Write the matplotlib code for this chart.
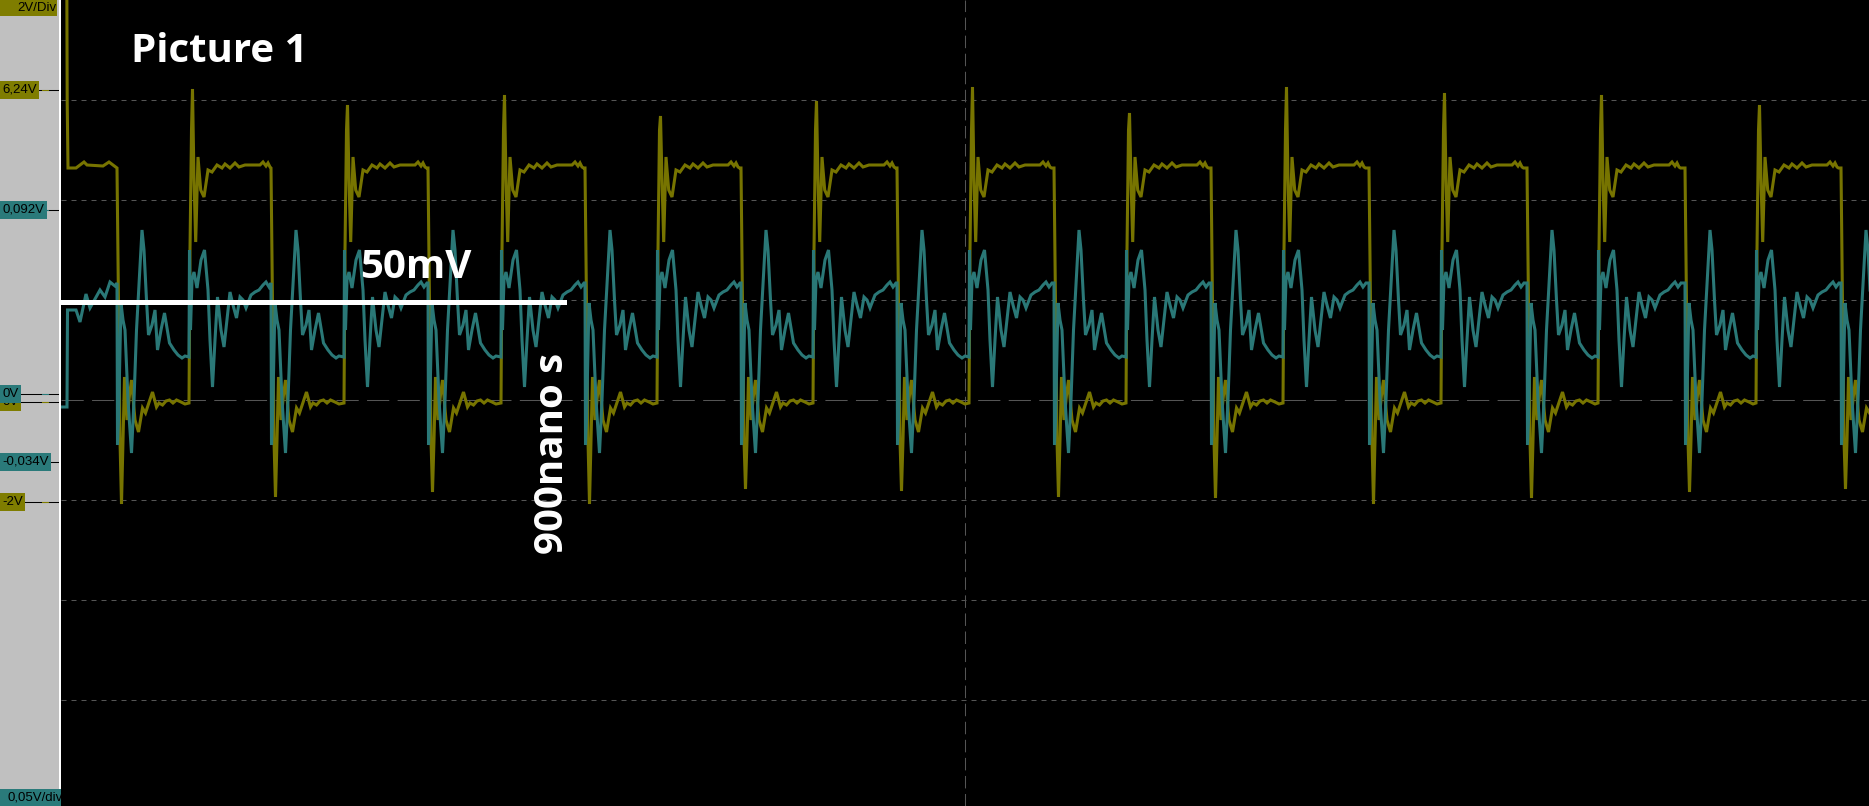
import matplotlib
matplotlib.use('Agg')
import matplotlib.pyplot as plt
from matplotlib.patches import Rectangle
from matplotlib.lines import Line2D

plt.rcParams['lines.scale_dashes'] = False

# scope settings
ch1_vdiv = 2.0       # yellow channel, V/div
ch2_vdiv = 0.05      # teal channel, V/div
ch1_offset = -0.02   # trace offset in divisions
ch2_offset = 0.06

ch1_ticks = [6.24, 0.0, -2.0]
ch1_tick_text = ['6,24V', '0V', '-2V']
ch2_ticks = [0.092, 0.0, -0.034]
ch2_tick_text = ['0,092V', '0V', '-0,034V']

# edge times (ns from the left edge of the screen)
fall_t = [56, 210, 367, 524, 680, 836, 993, 1150, 1308, 1466, 1624, 1780]
rise_t = [128, 283, 440, 596, 752, 908, 1065, 1222, 1380, 1537, 1695]
ch1_fall_min = [-2.04, -1.90, -1.80, -2.04, -1.74, -1.78, -1.90, -1.92, -2.04, -1.92, -1.80, -1.74]
ch1_rise_peak = [6.26, 5.94, 6.14, 5.72, 6.02, 6.30, 5.78, 6.30, 6.18, 6.14, 5.94]

# yellow: start of the record
ch1_start_t = [5.8, 6.2, 7, 15, 23, 26, 42, 48, 52]
ch1_start_v = [8.5, 6.0, 4.68, 4.68, 4.8, 4.74, 4.72, 4.8, 4.74]
# yellow: shape after a falling edge / after a rising edge
ch1_fall_dt = [0, 1.5, 3, 4.5, 6, 7.5, 10, 12.5, 14.5, 18, 21.5, 25.5, 28.5, 35.5, 39.5, 42, 45.5, 49, 52.5, 56, 59.5, 64, 68]
ch1_fall_v = [4.68, 2.04, -0.76, -2.06, -0.76, 0.5, -0.36, 0.14, 0.44, -0.36, -0.6, -0.12, -0.22, 0.2, -0.1, -0.02, -0.06, 0.02, 0.04, -0.02, 0.04, 0.0, -0.04]
ch1_rise_dt = [0, 1, 2.5, 3.5, 5, 6.7, 9, 11.7, 15, 19, 23, 28, 33, 36, 41, 46, 50, 56, 71, 74, 77, 79, 81, 82.5, 86]
ch1_rise_v = [-0.02, 3.04, 5.44, 6.28, 4.44, 3.2, 4.9, 4.24, 4.1, 4.64, 4.6, 4.74, 4.68, 4.76, 4.68, 4.78, 4.7, 4.74, 4.74, 4.8, 4.72, 4.78, 4.7, 4.68, 4.68]

# teal
ch2_start_t = [0, 6, 6.5, 15, 19, 25, 29, 39, 44, 49, 54]
ch2_start_v = [-0.0065, -0.0065, 0.042, 0.042, 0.036, 0.050, 0.043, 0.052, 0.0485, 0.056, 0.054]
ch2_fall_dt = [0, 0.5, 1.5, 4, 6, 8, 11, 14.5, 17, 19.5, 22.5, 25, 27, 29.5, 31.5, 35, 38, 40.5, 44, 47.5, 52.5, 57, 61, 65, 68]
ch2_fall_v = [0.0555, -0.0255, -0.013, 0.0455, 0.037, 0.032, -0.003, -0.0295, -0.003, 0.032, 0.0595, 0.082, 0.072, 0.047, 0.0295, 0.0345, 0.042, 0.022, 0.032, 0.0405, 0.0255, 0.022, 0.0195, 0.018, 0.019]
ch2_rise_dt = [0, 0.5, 1.5, 3, 5, 8, 12, 15.5, 19, 21, 23.5, 26, 28.5, 32, 35, 38, 41, 44, 47.5, 51, 54, 57, 62, 66, 70, 74, 77, 80, 83, 86]
ch2_rise_v = [0.0185, 0.072, 0.032, 0.057, 0.061, 0.053, 0.067, 0.072, 0.052, 0.027, 0.0035, 0.027, 0.0485, 0.032, 0.0235, 0.037, 0.051, 0.0445, 0.038, 0.0485, 0.047, 0.043, 0.0495, 0.051, 0.052, 0.0545, 0.056, 0.0535, 0.0555, 0.0555]

screen_ns = 1808
YEL = '#777400'
TEAL = '#2a7877'
BOX_Y = '#7f7d00'
BOX_T = '#2a7a7a'


def assemble(start_t, start_v, f_dt, f_v, r_dt, r_v, f_pk=None, r_pk=None, pk=3):
    t, v = list(start_t), list(start_v)
    for i, tf in enumerate(fall_t):
        t_next = rise_t[i] if i < len(rise_t) else screen_ns + 100
        fv = list(f_v)
        if f_pk: fv[pk] = f_pk[i]
        for dt, val in zip(f_dt, fv):
            if tf + dt < t_next:
                t.append(tf + dt); v.append(val)
        if i < len(rise_t):
            tr = rise_t[i]
            rv = list(r_v)
            if r_pk: rv[pk] = r_pk[i]
            for dt, val in zip(r_dt, rv):
                if tr + dt < fall_t[i + 1]:
                    t.append(tr + dt); v.append(val)
    return t, v


t1, v1 = assemble(ch1_start_t, ch1_start_v, ch1_fall_dt, ch1_fall_v, ch1_rise_dt, ch1_rise_v,
                  ch1_fall_min, ch1_rise_peak)
t2, v2 = assemble(ch2_start_t, ch2_start_v, ch2_fall_dt, ch2_fall_v, ch2_rise_dt, ch2_rise_v)

y1 = [v / ch1_vdiv + ch1_offset for v in v1]
y2 = [v / ch2_vdiv + ch2_offset for v in v2]

W, H = 1869, 806
fig = plt.figure(figsize=(W / 100, H / 100), dpi=100, facecolor='black')
ylo, yhi = -4.06, 4.0

# ---- scope screen
ax = fig.add_axes([61 / W, 0, (W - 61) / W, 1])
ax.set_facecolor('black')
ax.set_xlim(0, screen_ns)
ax.set_ylim(ylo, yhi)
ax.set_xticks([]); ax.set_yticks([])
for s in ax.spines.values():
    s.set_visible(False)

grid_c = '#555555'
for d in [3, 2, 1, -1, -2, -3]:
    ax.axhline(d, color=grid_c, lw=0.75, ls=(0, (3.6, 3.6)), zorder=1)
ax.axhline(0, color=grid_c, lw=0.75, ls=(0, (16, 6)), zorder=1)
ax.axvline(screen_ns / 2, color=grid_c, lw=0.75, ls=(0, (9, 4)), zorder=1)

ax.plot(t1, y1, color=YEL, lw=2.2, zorder=3, solid_joinstyle='miter')
ax.plot(t2, y2, color=TEAL, lw=2.2, zorder=4, solid_joinstyle='miter')

# ---- annotations laid over the screenshot
bold = dict(family='Open Sans', weight='bold', color='white', fontsize=29)
ax.text(70, 3.38, 'Picture 1', ha='left', va='baseline', zorder=10, **bold)
ax.text(299, 1.22, '50mV', ha='left', va='baseline', zorder=10, **bold)
ax.text(491, -0.53, '900nano s', rotation=90, ha='center', va='center', zorder=10, **bold)
ax.add_line(Line2D([-10, 503], [0.98, 0.98], color='white', lw=3.6, zorder=11, clip_on=False))

# ---- left gray panel with channel markers
axl = fig.add_axes([0, 0, 61 / W, 1])
axl.set_xlim(0, 61)
axl.set_ylim(ylo, yhi)
axl.axis('off')
axl.add_patch(Rectangle((0, ylo), 59, yhi - ylo, fc='#c0c0c0', ec='none', zorder=0))
axl.add_patch(Rectangle((59, ylo), 2, yhi - ylo, fc='white', ec='none', zorder=0))

lab = dict(family=['Liberation Sans', 'DejaVu Sans'], fontsize=9.5, color='black')


def marker(val, txt, vdiv, off, col, z):
    y = val / vdiv + off
    axl.plot([0, 58], [y, y], color='black', lw=0.75, zorder=z)
    axl.plot([42, 48], [y, y], color=col, lw=0.75, zorder=z)
    axl.text(2, y, txt, ha='left', va='center', zorder=z + 1,
             bbox=dict(boxstyle='square,pad=0.2', fc=col, ec='none'), **lab)


for val, txt in zip(ch1_ticks, ch1_tick_text):
    marker(val, txt, ch1_vdiv, ch1_offset, BOX_Y, 2)
for val, txt in zip(ch2_ticks, ch2_tick_text):
    marker(val, txt, ch2_vdiv, ch2_offset, BOX_T, 5)

axl.add_patch(Rectangle((0, yhi - 0.16), 57, 0.16, fc=BOX_Y, ec='none', zorder=6))
axl.text(56, yhi - 0.08, '2V/Div', ha='right', va='center', zorder=7, **lab)
axl.add_patch(Rectangle((0, ylo), 61, 0.17, fc=BOX_T, ec='none', zorder=6, clip_on=False))
axl.text(7, ylo + 0.085, '0,05V/div', ha='left', va='center', zorder=7, clip_on=True, **lab)

plt.savefig('out.png', dpi=100, facecolor='black')
